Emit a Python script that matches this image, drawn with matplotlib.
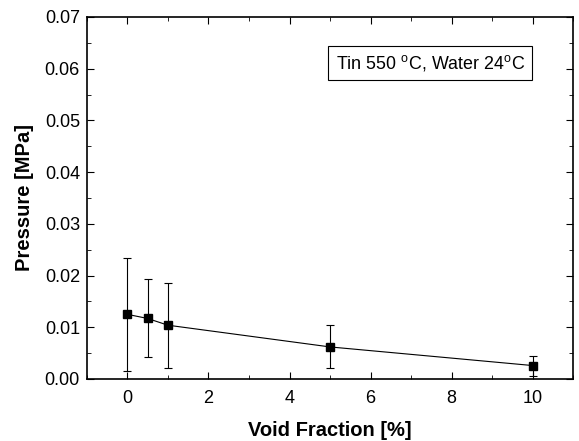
import matplotlib
matplotlib.use('Agg')
import matplotlib.pyplot as plt
from matplotlib.ticker import MultipleLocator

# --- Data ---
void_fraction = [0, 0.5, 1, 5, 10]
pressure = [0.0125, 0.0117, 0.0104, 0.0062, 0.0026]
err_upper = [0.0233, 0.0193, 0.0186, 0.0104, 0.0044]
err_lower = [0.0016, 0.0042, 0.0021, 0.0021, 0.0006]

plt.rcParams['font.family'] = ['Liberation Sans', 'DejaVu Sans']

yerr = [[p - lo for p, lo in zip(pressure, err_lower)],
        [hi - p for p, hi in zip(pressure, err_upper)]]

fig = plt.figure(figsize=(5.79, 4.41), dpi=100)
ax = fig.add_axes([0.150, 0.1406, 0.840, 0.821])

ax.errorbar(void_fraction, pressure, yerr=yerr, fmt='-s', color='black',
            markersize=6, linewidth=0.8, elinewidth=0.8, capsize=3, capthick=0.8)

ax.set_xlim(-1, 11)
ax.set_ylim(0, 0.07)
ax.xaxis.set_major_locator(MultipleLocator(2))
ax.xaxis.set_minor_locator(MultipleLocator(1))
ax.yaxis.set_major_locator(MultipleLocator(0.01))
ax.yaxis.set_minor_locator(MultipleLocator(0.005))
ax.yaxis.set_major_formatter(plt.FormatStrFormatter('%.2f'))
ax.tick_params(which='both', direction='in', top=True, right=True, labelsize=13)
ax.tick_params(axis='x', pad=8)
ax.tick_params(axis='y', pad=5)
ax.tick_params(which='major', length=5)
ax.tick_params(which='minor', length=3)
for s in ax.spines.values():
    s.set_linewidth(1.2)

ax.set_xlabel('Void Fraction [%]', fontsize=14.5, fontweight='bold', labelpad=10)
ax.set_ylabel('Pressure [MPa]', fontsize=14.5, fontweight='bold', labelpad=8)

ax.text(0.706, 0.873, 'Tin 550 $^\\mathregular{o}$C, Water 24$^\\mathregular{o}$C',
        transform=ax.transAxes, ha='center', va='center', fontsize=12.9,
        bbox=dict(boxstyle='square,pad=0.4', facecolor='white', edgecolor='black', linewidth=0.8))

plt.savefig('out.png', dpi=100)
